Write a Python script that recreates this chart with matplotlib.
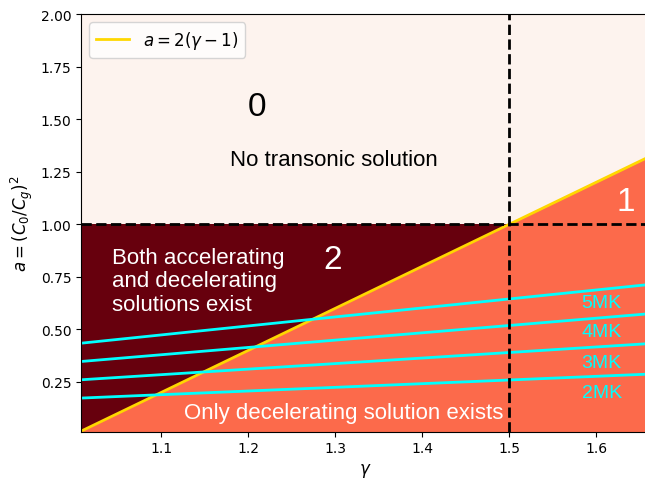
import numpy as np
import matplotlib.pyplot as plt

# gamma range and temperature lines (a at both ends of the gamma range)
gamma_ends = [1.0077, 1.66]
temp_labels = ['5MK', '4MK', '3MK', '2MK']
temp_a_left = [0.434, 0.347, 0.260, 0.173]
temp_a_right = [0.713, 0.574, 0.432, 0.287]
temp_label_y = [0.628, 0.492, 0.343, 0.200]

gamma_crit = 1.5
a_crit = 1.0
a_min, a_max = 0.013, 2.0

pink = '#fdf3ee'
dark = '#67000d'
salmon = '#fc6a4b'

fig = plt.figure(figsize=(6.45, 4.81), dpi=100)
ax = fig.add_axes([0.1256, 0.1004, 0.8800, 0.8684])

gam = np.linspace(gamma_ends[0], gamma_ends[1], 200)
a_line = 2 * (gam - 1)

ax.set_facecolor(pink)
ax.fill_between(gam, a_min, a_crit, where=gam <= gamma_crit + 0.01, color=dark, lw=0)
ax.fill_between(gam, a_min, a_line, color=salmon, lw=0)

ax.plot(gam, a_line, color='gold', lw=2, label=r'$a=2(\gamma-1)$')
for left, right in zip(temp_a_left, temp_a_right):
    ax.plot(gamma_ends, [left, right], color='cyan', lw=2)

ax.axhline(a_crit, color='k', ls='--', lw=2)
ax.axvline(gamma_crit, color='k', ls='--', lw=2)

fnt = 'Liberation Sans'
ax.text(1.21, 1.56, '0', fontsize=24, ha='center', va='center', family=fnt)
ax.text(1.298, 1.306, 'No transonic solution', fontsize=16, ha='center', va='center', family=fnt)
ax.text(1.634, 1.11, '1', fontsize=24, color='white', ha='center', va='center', family=fnt)
ax.text(1.297, 0.83, '2', fontsize=24, color='white', ha='center', va='center', family=fnt)
ax.text(1.043, 0.73, 'Both accelerating\nand decelerating\nsolutions exist', fontsize=16,
        color='white', ha='left', va='center', linespacing=1.15, family=fnt)
ax.text(1.309, 0.105, 'Only decelerating solution exists', fontsize=16, color='white',
        ha='center', va='center', family=fnt)
for lab, y in zip(temp_labels, temp_label_y):
    ax.text(1.606, y, lab, fontsize=14, color='cyan', ha='center', va='center', family=fnt)

ax.set_xlim(gamma_ends)
ax.set_ylim(a_min, a_max)
ax.set_xticks([1.1, 1.2, 1.3, 1.4, 1.5, 1.6])
ax.set_yticks([0.25, 0.5, 0.75, 1.0, 1.25, 1.5, 1.75, 2.0])
ax.set_xlabel(r'$\gamma$', fontsize=12)
ax.set_ylabel(r'$a=(C_0/C_g)^2$', fontsize=12)
ax.legend(loc='upper left', fontsize=12)

fig.savefig('out.png', dpi=100)
